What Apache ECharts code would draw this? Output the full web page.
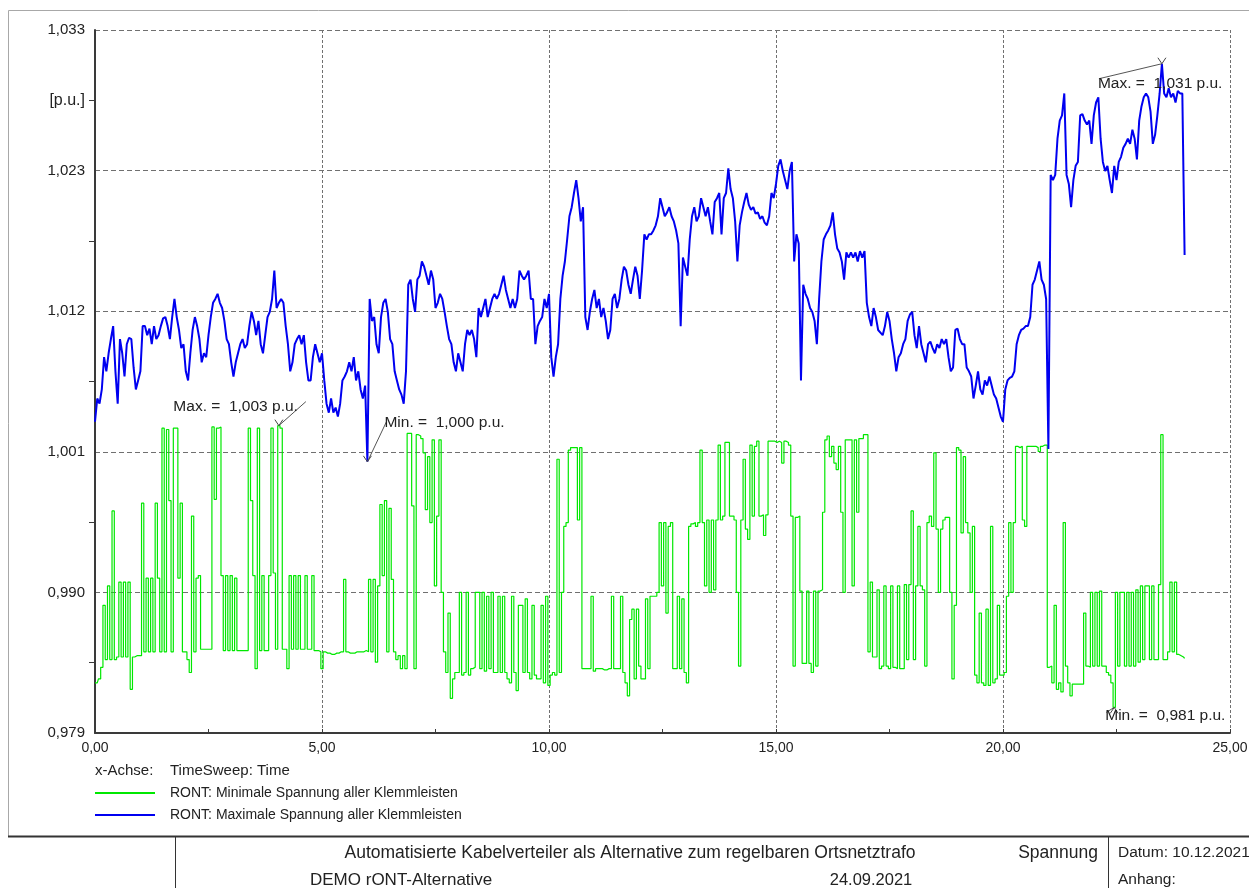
<!DOCTYPE html>
<html>
<head>
<meta charset="utf-8">
<title>Spannung – rONT-Alternative</title>
<script src="https://cdn.jsdelivr.net/npm/echarts@6/dist/echarts.min.js"></script>
<style>
  html, body { margin: 0; padding: 0; background: #ffffff; }
  #chart { width: 1249px; height: 888px; }
</style>
</head>
<body>
<div id="chart"></div>
<script>
// Time base: one sample every 0.05 h, from 0 h to 24 h
const STEP_H = 0.05;

// Axis tick labels
const xTickLabels = ['0,00', '5,00', '10,00', '15,00', '20,00', '25,00'];
const yTickLabels = ['0,979', '0,990', '1,001', '1,012', '1,023', '1,033'];

// Series names
const seriesNames = [
  'RONT: Minimale Spannung aller Klemmleisten',
  'RONT: Maximale Spannung aller Klemmleisten'
];

// RONT: Minimale Spannung aller Klemmleisten [p.u.], one row per hour
const minSpannung = [
  0.9829,0.9829,0.9832,0.9841,0.9889,0.9847,0.9904,0.9847,0.9962,0.9847,0.9849,0.9907,0.9849,0.9907,0.9849,0.9907,0.9824,0.9849,0.9850,0.9850,
  0.9850,0.9968,0.9853,0.9910,0.9853,0.9910,0.9853,0.9968,0.9910,0.9853,1.0026,0.9853,1.0025,0.9970,0.9853,1.0026,1.0026,0.9910,0.9968,0.9853,
  0.9853,0.9847,0.9837,0.9958,0.9853,0.9910,0.9912,0.9855,0.9855,0.9855,0.9855,0.9855,1.0027,0.9971,1.0026,1.0027,0.9912,0.9854,0.9912,0.9854,
  0.9912,0.9854,0.9910,0.9854,0.9854,0.9854,0.9854,0.9854,1.0026,0.9970,0.9912,0.9840,1.0026,0.9854,0.9912,0.9854,0.9854,0.9912,1.0026,0.9914,
  0.9855,1.0028,1.0026,0.9855,0.9855,0.9840,0.9912,0.9855,0.9912,0.9855,0.9912,0.9855,0.9855,0.9912,0.9855,0.9855,0.9912,0.9854,0.9854,0.9853,
  0.9840,0.9853,0.9852,0.9852,0.9851,0.9851,0.9852,0.9852,0.9853,0.9853,0.9909,0.9853,0.9852,0.9852,0.9852,0.9853,0.9853,0.9853,0.9853,0.9854,
  0.9853,0.9909,0.9853,0.9909,0.9845,0.9904,0.9967,0.9912,0.9970,0.9853,0.9964,0.9909,0.9853,0.9847,0.9850,0.9840,0.9850,0.9840,1.0022,1.0022,
  0.9966,0.9840,1.0021,1.0020,1.0018,1.0007,0.9963,1.0004,0.9953,1.0017,0.9904,0.9958,1.0017,0.9899,0.9853,0.9837,0.9883,0.9817,0.9832,0.9837,
  0.9837,0.9899,0.9835,0.9837,0.9899,0.9835,0.9840,0.9841,0.9899,0.9899,0.9840,0.9899,0.9838,0.9896,0.9840,0.9899,0.9837,0.9837,0.9896,0.9837,
  0.9896,0.9837,0.9832,0.9829,0.9896,0.9837,0.9823,0.9889,0.9889,0.9837,0.9894,0.9837,0.9832,0.9889,0.9835,0.9832,0.9832,0.9889,0.9829,0.9896,
  0.9827,0.9835,0.9837,0.9835,1.0002,0.9837,0.9899,0.9950,0.9953,1.0009,1.0011,1.0011,1.0011,0.9955,1.0011,0.9840,0.9840,0.9840,0.9840,0.9896,
  0.9838,0.9840,0.9840,0.9840,0.9839,0.9839,0.9840,0.9840,0.9896,0.9840,0.9840,0.9840,0.9896,0.9837,0.9829,0.9819,0.9878,0.9886,0.9832,0.9886,
  0.9842,0.9832,0.9832,0.9894,0.9840,0.9896,0.9896,0.9896,0.9899,0.9953,0.9904,0.9953,0.9883,0.9950,0.9953,0.9840,0.9840,0.9896,0.9840,0.9894,
  0.9837,0.9829,0.9950,0.9952,0.9953,0.9950,0.9953,1.0009,0.9953,0.9904,0.9955,0.9899,0.9955,0.9901,0.9955,1.0013,0.9955,0.9958,1.0015,1.0015,
  0.9958,0.9958,0.9955,0.9899,0.9842,0.9955,1.0002,0.9948,0.9940,1.0013,0.9958,1.0012,1.0016,0.9958,0.9959,0.9943,0.9959,1.0016,1.0016,1.0016,
  1.0015,1.0016,1.0015,0.9999,1.0016,1.0015,1.0013,0.9958,0.9842,0.9957,0.9958,0.9900,0.9844,0.9844,0.9900,0.9844,0.9837,0.9900,0.9842,0.9900,
  0.9901,0.9961,1.0017,1.0020,1.0004,1.0012,0.9999,0.9994,1.0012,0.9961,0.9899,1.0017,1.0017,1.0017,0.9904,1.0017,0.9961,1.0018,1.0018,1.0021,
  1.0021,0.9853,0.9907,0.9849,0.9849,0.9901,0.9840,0.9842,0.9904,0.9842,0.9840,0.9904,0.9841,0.9840,0.9904,0.9840,0.9840,0.9905,0.9847,0.9905,
  0.9962,0.9847,0.9904,0.9950,0.9904,0.9901,0.9842,0.9953,0.9958,0.9950,1.0007,0.9948,0.9899,0.9948,0.9955,0.9957,0.9957,0.9899,0.9832,0.9889,
  1.0011,1.0009,0.9945,1.0004,0.9953,0.9945,0.9899,0.9950,0.9835,0.9829,0.9883,0.9829,0.9827,0.9886,0.9827,0.9950,0.9829,0.9832,0.9889,0.9835,
  0.9835,0.9837,0.9896,0.9953,0.9899,0.9953,1.0012,1.0011,1.0012,0.9955,0.9950,1.0012,1.0012,1.0012,1.0012,1.0011,1.0008,1.0012,1.0013,1.0013,
  0.9841,0.9842,0.9829,0.9889,0.9824,0.9829,0.9822,0.9953,0.9842,0.9829,0.9819,0.9828,0.9828,0.9828,0.9828,0.9828,0.9883,0.9842,0.9841,0.9899,
  0.9842,0.9899,0.9842,0.9900,0.9842,0.9842,0.9837,0.9835,0.9829,0.9810,0.9899,0.9842,0.9899,0.9899,0.9842,0.9899,0.9842,0.9899,0.9842,0.9901,
  0.9845,0.9904,0.9847,0.9904,0.9904,0.9847,0.9904,0.9847,0.9847,0.9905,1.0021,0.9847,0.9847,0.9853,0.9907,0.9853,0.9907,0.9851,0.9850,0.9849,
  0.9848
];

// RONT: Maximale Spannung aller Klemmleisten [p.u.], one row per hour
const maxSpannung = [
  1.0031,1.0049,1.0045,1.0056,1.0081,1.0070,1.0084,1.0095,1.0105,1.0070,1.0045,1.0095,1.0084,1.0066,1.0091,1.0096,1.0095,1.0073,1.0056,1.0063,
  1.0070,1.0105,1.0105,1.0098,1.0103,1.0091,1.0105,1.0095,1.0098,1.0105,1.0111,1.0112,1.0105,1.0095,1.0112,1.0126,1.0112,1.0102,1.0088,1.0091,
  1.0070,1.0063,1.0084,1.0102,1.0112,1.0105,1.0095,1.0077,1.0084,1.0081,1.0098,1.0112,1.0123,1.0126,1.0130,1.0123,1.0119,1.0109,1.0095,1.0091,
  1.0077,1.0066,1.0077,1.0084,1.0091,1.0095,1.0088,1.0091,1.0105,1.0116,1.0109,1.0098,1.0109,1.0091,1.0084,1.0098,1.0112,1.0116,1.0126,1.0148,
  1.0119,1.0123,1.0126,1.0123,1.0105,1.0091,1.0070,1.0077,1.0091,1.0095,1.0098,1.0091,1.0098,1.0077,1.0063,1.0063,1.0081,1.0091,1.0084,1.0077,
  1.0084,1.0063,1.0045,1.0038,1.0049,1.0038,1.0042,1.0035,1.0045,1.0063,1.0066,1.0070,1.0077,1.0070,1.0081,1.0063,1.0070,1.0056,1.0049,1.0059,
  1.0000,1.0126,1.0109,1.0112,1.0091,1.0084,1.0112,1.0123,1.0126,1.0116,1.0095,1.0091,1.0070,1.0063,1.0056,1.0052,1.0045,1.0070,1.0137,1.0141,
  1.0126,1.0116,1.0141,1.0144,1.0155,1.0151,1.0144,1.0137,1.0148,1.0141,1.0119,1.0123,1.0130,1.0126,1.0116,1.0105,1.0095,1.0091,1.0077,1.0070,
  1.0084,1.0077,1.0070,1.0091,1.0102,1.0098,1.0102,1.0095,1.0081,1.0119,1.0112,1.0119,1.0126,1.0112,1.0119,1.0126,1.0130,1.0126,1.0130,1.0137,
  1.0144,1.0133,1.0126,1.0119,1.0126,1.0119,1.0126,1.0148,1.0144,1.0141,1.0144,1.0148,1.0126,1.0126,1.0091,1.0105,1.0109,1.0112,1.0126,1.0119,
  1.0130,1.0081,1.0066,1.0081,1.0091,1.0126,1.0144,1.0155,1.0172,1.0190,1.0197,1.0208,1.0218,1.0204,1.0186,1.0197,1.0112,1.0102,1.0116,1.0126,
  1.0133,1.0119,1.0126,1.0112,1.0119,1.0109,1.0095,1.0102,1.0126,1.0130,1.0119,1.0126,1.0141,1.0151,1.0148,1.0137,1.0130,1.0141,1.0151,1.0144,
  1.0126,1.0148,1.0176,1.0172,1.0176,1.0176,1.0179,1.0183,1.0190,1.0204,1.0197,1.0190,1.0193,1.0197,1.0190,1.0186,1.0179,1.0169,1.0105,1.0158,
  1.0151,1.0144,1.0172,1.0190,1.0197,1.0186,1.0190,1.0204,1.0197,1.0190,1.0197,1.0186,1.0176,1.0201,1.0204,1.0208,1.0176,1.0204,1.0208,1.0227,
  1.0211,1.0204,1.0186,1.0155,1.0183,1.0193,1.0201,1.0208,1.0199,1.0195,1.0197,1.0192,1.0193,1.0188,1.0190,1.0185,1.0183,1.0190,1.0208,1.0204,
  1.0215,1.0229,1.0234,1.0225,1.0218,1.0211,1.0225,1.0232,1.0155,1.0176,1.0169,1.0063,1.0137,1.0130,1.0126,1.0119,1.0116,1.0109,1.0091,1.0126,
  1.0155,1.0172,1.0176,1.0179,1.0183,1.0193,1.0176,1.0165,1.0162,1.0155,1.0141,1.0162,1.0158,1.0162,1.0158,1.0162,1.0155,1.0163,1.0158,1.0163,
  1.0123,1.0112,1.0105,1.0119,1.0112,1.0102,1.0100,1.0098,1.0105,1.0116,1.0109,1.0095,1.0084,1.0070,1.0081,1.0084,1.0091,1.0095,1.0109,1.0114,
  1.0116,1.0098,1.0088,1.0105,1.0091,1.0084,1.0077,1.0091,1.0093,1.0088,1.0084,1.0091,1.0088,1.0095,1.0091,1.0095,1.0081,1.0070,1.0073,1.0102,
  1.0103,1.0095,1.0091,1.0091,1.0073,1.0070,1.0066,1.0049,1.0059,1.0070,1.0056,1.0052,1.0063,1.0059,1.0066,1.0059,1.0052,1.0049,1.0042,1.0035,
  1.0031,1.0056,1.0063,1.0065,1.0066,1.0070,1.0091,1.0098,1.0102,1.0103,1.0105,1.0105,1.0112,1.0137,1.0141,1.0148,1.0155,1.0141,1.0137,1.0126,
  1.0010,1.0222,1.0218,1.0222,1.0250,1.0264,1.0268,1.0285,1.0222,1.0215,1.0197,1.0218,1.0229,1.0232,1.0268,1.0269,1.0264,1.0261,1.0264,1.0246,
  1.0268,1.0278,1.0282,1.0250,1.0232,1.0225,1.0229,1.0218,1.0208,1.0229,1.0218,1.0232,1.0236,1.0243,1.0246,1.0250,1.0246,1.0257,1.0250,1.0234,
  1.0264,1.0275,1.0282,1.0285,1.0282,1.0271,1.0246,1.0253,1.0268,1.0285,1.0308,1.0285,1.0282,1.0289,1.0282,1.0285,1.0278,1.0287,1.0285,1.0285,
  1.0160
];

// Axis ranges (y ticks start at a multiple of the interval)
const X_MIN = 0, X_MAX = 25, X_STEP = 5;
const Y_STEP = 0.010878;
const Y_MIN = 90 * Y_STEP;   // 0.97902
const Y_MAX = 95 * Y_STEP;   // 1.03341

const FONT = '"Liberation Sans", Arial, Helvetica, sans-serif';
const TEXT_COLOR = '#222222';
const GREEN = '#00e800';
const BLUE = '#0000f0';

const toPairs = (arr) => arr.map((v, i) => [Math.round(i * STEP_H * 100) / 100, v]);
const fmtPu = (v) => v.toFixed(3).replace('.', ',');

const chart = echarts.init(document.getElementById('chart'), null, { renderer: 'canvas' });

chart.setOption({
  animation: false,
  backgroundColor: '#ffffff',
  textStyle: { fontFamily: FONT },
  grid: { left: 95, right: 19, top: 30, bottom: 155, outerBoundsMode: 'none', containLabel: false },
  xAxis: {
    type: 'value',
    min: X_MIN, max: X_MAX, interval: X_STEP,
    axisLine: { show: true, onZero: false, lineStyle: { color: '#3a3a3a', width: 2 } },
    axisTick: { show: true, inside: true, length: 4, lineStyle: { color: '#3a3a3a', width: 1 } },
    minorTick: { show: true, splitNumber: 2, length: 4, lineStyle: { color: '#3a3a3a', width: 1 } },
    axisLabel: {
      margin: 8, color: TEXT_COLOR, fontSize: 14, fontFamily: FONT,
      formatter: (v) => xTickLabels[Math.round((v - X_MIN) / X_STEP)]
    },
    splitLine: { show: true, lineStyle: { color: '#707070', width: 1, type: [3, 2] } }
  },
  yAxis: {
    type: 'value',
    min: Y_MIN, max: Y_MAX, interval: Y_STEP,
    axisLine: { show: true, onZero: false, lineStyle: { color: '#3a3a3a', width: 2 } },
    axisTick: { show: false },
    minorTick: { show: true, splitNumber: 2, length: 6, lineStyle: { color: '#3a3a3a', width: 1 } },
    axisLabel: {
      margin: 10, color: TEXT_COLOR, fontSize: 15, fontFamily: FONT,
      formatter: (v) => yTickLabels[Math.round((v - Y_MIN) / Y_STEP)]
    },
    splitLine: { show: true, lineStyle: { color: '#707070', width: 1, type: [5, 3] } }
  },
  legend: {
    orient: 'vertical',
    left: 95, top: 786, padding: 0,
    itemWidth: 60, itemHeight: 2, itemGap: 8,
    icon: 'rect',
    selectedMode: false,
    data: seriesNames,
    textStyle: { color: TEXT_COLOR, fontSize: 14, fontFamily: FONT, padding: [0, 0, 0, 10] }
  },
  series: [
    {
      name: seriesNames[0],
      type: 'line',
      step: 'middle',
      data: toPairs(minSpannung),
      showSymbol: false,
      symbol: 'none',
      lineStyle: { color: GREEN, width: 1.2 },
      itemStyle: { color: GREEN },
      z: 2
    },
    {
      name: seriesNames[1],
      type: 'line',
      data: toPairs(maxSpannung),
      showSymbol: false,
      symbol: 'none',
      lineStyle: { color: BLUE, width: 2 },
      itemStyle: { color: BLUE },
      z: 3
    }
  ]
});

// Index of the extreme value of a series
function extremeIndex(arr, better) {
  let k = 0;
  for (let i = 1; i < arr.length; i++) if (better(arr[i], arr[k])) k = i;
  return k;
}

// Max/Min annotations: caret at the point, leader line, value text
function annotation(arr, kind, lineEnd, textPos, align, caretUp) {
  const idx = kind === 'Max.'
    ? extremeIndex(arr, (a, b) => a > b)
    : extremeIndex(arr, (a, b) => a < b);
  const t = Math.round(idx * STEP_H * 100) / 100;
  const v = arr[idx];
  const p = chart.convertToPixel({ gridIndex: 0 }, [t, v]);
  const s = caretUp ? -1 : 1;
  return [
    {
      type: 'polyline', silent: true, z: 20,
      shape: { points: [[p[0] - 4, p[1] + s * 6], [p[0], p[1]], [p[0] + 4, p[1] + s * 6]] },
      style: { stroke: '#444444', lineWidth: 1, fill: null }
    },
    {
      type: 'line', silent: true, z: 20,
      shape: { x1: p[0], y1: p[1], x2: p[0] + lineEnd[0], y2: p[1] + lineEnd[1] },
      style: { stroke: '#555555', lineWidth: 1 }
    },
    {
      type: 'text', silent: true, z: 21,
      x: p[0] + textPos[0], y: p[1] + textPos[1],
      style: {
        text: kind + ' =  ' + fmtPu(v) + ' p.u.',
        font: '15.5px ' + FONT, fill: TEXT_COLOR,
        textAlign: align, textVerticalAlign: 'middle'
      }
    }
  ];
}

function textEl(x, y, text, align, size) {
  return {
    type: 'text', silent: true, x: x, y: y,
    style: {
      text: text, font: (size || 14) + 'px ' + FONT, fill: TEXT_COLOR,
      textAlign: align || 'left', textVerticalAlign: 'middle'
    }
  };
}

function lineEl(x1, y1, x2, y2, color, width) {
  return {
    type: 'line', silent: true,
    shape: { x1: x1, y1: y1, x2: x2, y2: y2 },
    style: { stroke: color, lineWidth: width }
  };
}

const graphics = [
  // page frame
  lineEl(8.5, 10.5, 1249, 10.5, '#a8a8a8', 1),
  lineEl(8.5, 10.5, 8.5, 836, '#a8a8a8', 1),
  // title block
  lineEl(8, 836.5, 1249, 836.5, '#333333', 2),
  lineEl(175.5, 836, 175.5, 888, '#333333', 1),
  lineEl(1108.5, 836, 1108.5, 888, '#333333', 1),
  // axis unit
  textEl(85, 101, '[p.u.]', 'right', 16),
  // x-axis description
  textEl(95, 771, 'x-Achse:', 'left', 15),
  textEl(170, 771, 'TimeSweep: Time', 'left', 15),
  // title block texts
  textEl(630, 853, 'Automatisierte Kabelverteiler als Alternative zum regelbaren Ortsnetztrafo', 'center', 17.5),
  textEl(1098, 853, 'Spannung', 'right', 17.5),
  textEl(1118, 853, 'Datum: 10.12.2021', 'left', 15.5),
  textEl(310, 880, 'DEMO rONT-Alternative', 'left', 17),
  textEl(871, 880, '24.09.2021', 'center', 16.5),
  textEl(1118, 880, 'Anhang:', 'left', 15.5)
]
  .concat(annotation(minSpannung, 'Max.', [27, -24], [19, -19], 'right', true))
  .concat(annotation(maxSpannung, 'Min.', [19, -40], [17, -39], 'left', true))
  .concat(annotation(maxSpannung, 'Max.', [-63, 15], [-64, 20], 'left', true))
  .concat(annotation(minSpannung, 'Min.', [-8, 5], [-9, 8], 'left', false));

chart.setOption({ graphic: graphics });
</script>
</body>
</html>
